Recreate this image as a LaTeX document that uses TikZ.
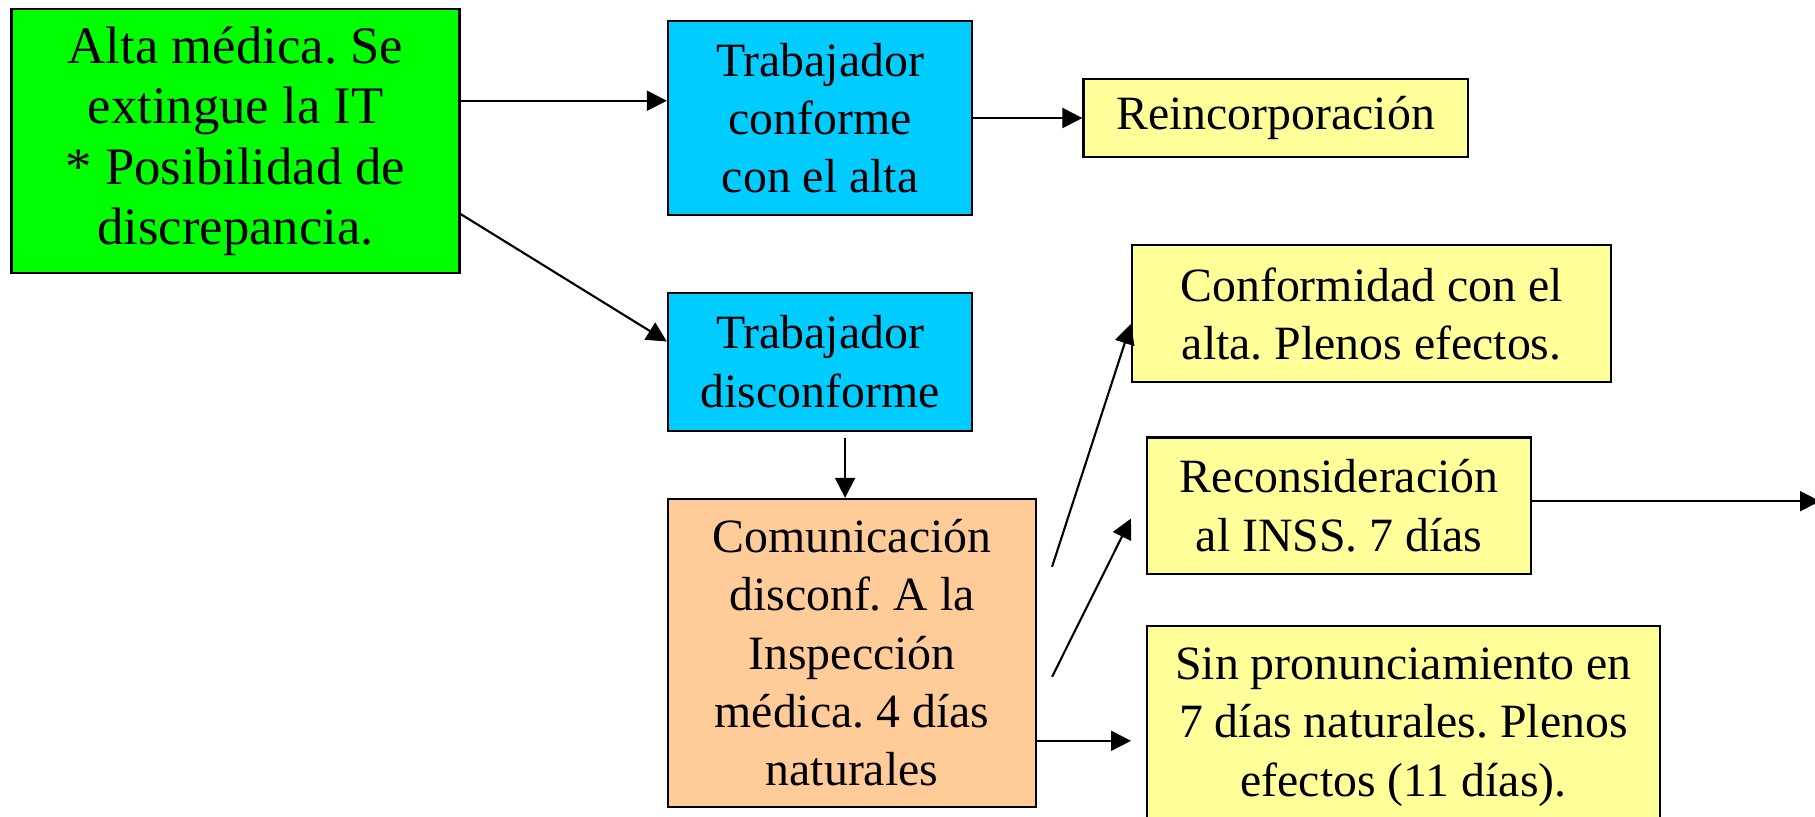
\documentclass[tikz,border=0pt]{standalone}
\usepackage{fontspec}
\setmainfont{Liberation Serif}
\usepackage{tikz}
\usetikzlibrary{arrows.meta, positioning, shapes}
\usepackage{xcolor}
\definecolor{verdealta}{RGB}{0,255,0}
\definecolor{azultrab}{RGB}{0,204,255}
\definecolor{amarillo}{RGB}{255,255,153}
\definecolor{naranja}{RGB}{255,204,153}
\frenchspacing

\begin{document}
\begin{tikzpicture}
            \tikzstyle{block} = [rectangle, draw, line width=0.6pt, inner sep=0pt, align=center, font=\fontsize{13.6}{16.6}\selectfont]
            \tikzstyle{line} = [draw, line width=0.6pt, -{Triangle[length=2mm, width=2mm]}]

            \useasboundingbox (0,0) rectangle (18.15,-8.16);

            % nodos principales
            \node[block, fill=verdealta, minimum width=4.48cm, minimum height=2.64cm, font=\fontsize{15}{17.2}\selectfont] (alta) at (2.355,-1.412) {Alta médica. Se \\ extingue la IT \\ * Posibilidad de \\ discrepancia.};
            \node[block, fill=azultrab, minimum width=3.044cm, minimum height=1.945cm] (conforme) at (8.201,-1.18) {Trabajador \\ conforme \\ con el alta};
            \node[block, fill=amarillo, minimum width=3.843cm, minimum height=0.787cm] (reinc) at (12.756,-1.18) {Reincorporación};
            \node[block, fill=azultrab, minimum width=3.044cm, minimum height=1.378cm] (disconf) at (8.201,-3.617) {Trabajador \\ disconforme};
            \node[block, fill=naranja, minimum width=3.68cm, minimum height=3.079cm] (comunic) at (8.52,-6.528) {Comunicación \\ disconf. A la \\ Inspección \\ médica. 4 días \\ naturales};

            % resultados
            \node[block, fill=amarillo, minimum width=4.792cm, minimum height=1.366cm] (plenos) at (13.716,-3.137) {Conformidad con el \\ alta. Plenos efectos.};
            \node[block, fill=amarillo, minimum width=3.844cm, minimum height=1.366cm] (recons) at (13.392,-5.058) {Reconsideración \\ al INSS. 7 días};
            \node[block, fill=amarillo, minimum width=5.129cm, minimum height=2.02cm] (sinpron) at (14.035,-7.272) {Sin pronunciamiento en \\ 7 días naturales. Plenos \\ efectos (11 días).};

            % extremos libres
            \coordinate (d1) at ([xshift=2.5mm, yshift=-0.6mm]disconf.south);
            \coordinate (c1) at ([xshift=1.5mm, yshift=8.6mm]comunic.east);
            \coordinate (c2) at ([xshift=1.5mm, yshift=-2.4mm]comunic.east);
            \coordinate (fin) at (18.2,0);

            % flechas
            \path [line] ([yshift=4.05mm]alta.east) -- ([yshift=4.05mm]alta.east -| conforme.west);
            \path [line] ([yshift=-7.28mm]alta.east) -- ([yshift=2.02mm]disconf.west);
            \path [line] (conforme.east) -- (reinc.west);
            \path [line] (d1) -- (d1 |- comunic.north);
            \path [line] (c1) -- ([yshift=-1.03mm]plenos.west);
            \path [line] (c2) -- ([xshift=-1.5mm, yshift=-1.28mm]recons.west);
            \path [line, shorten >=1.5mm] ([yshift=-8.8mm]comunic.east) -- ([yshift=-8.8mm]comunic.east -| sinpron.west);
            \path [line] ([yshift=0.46mm]recons.east) -- ([yshift=0.46mm]recons.east -| fin);
        \end{tikzpicture}
\end{document}
